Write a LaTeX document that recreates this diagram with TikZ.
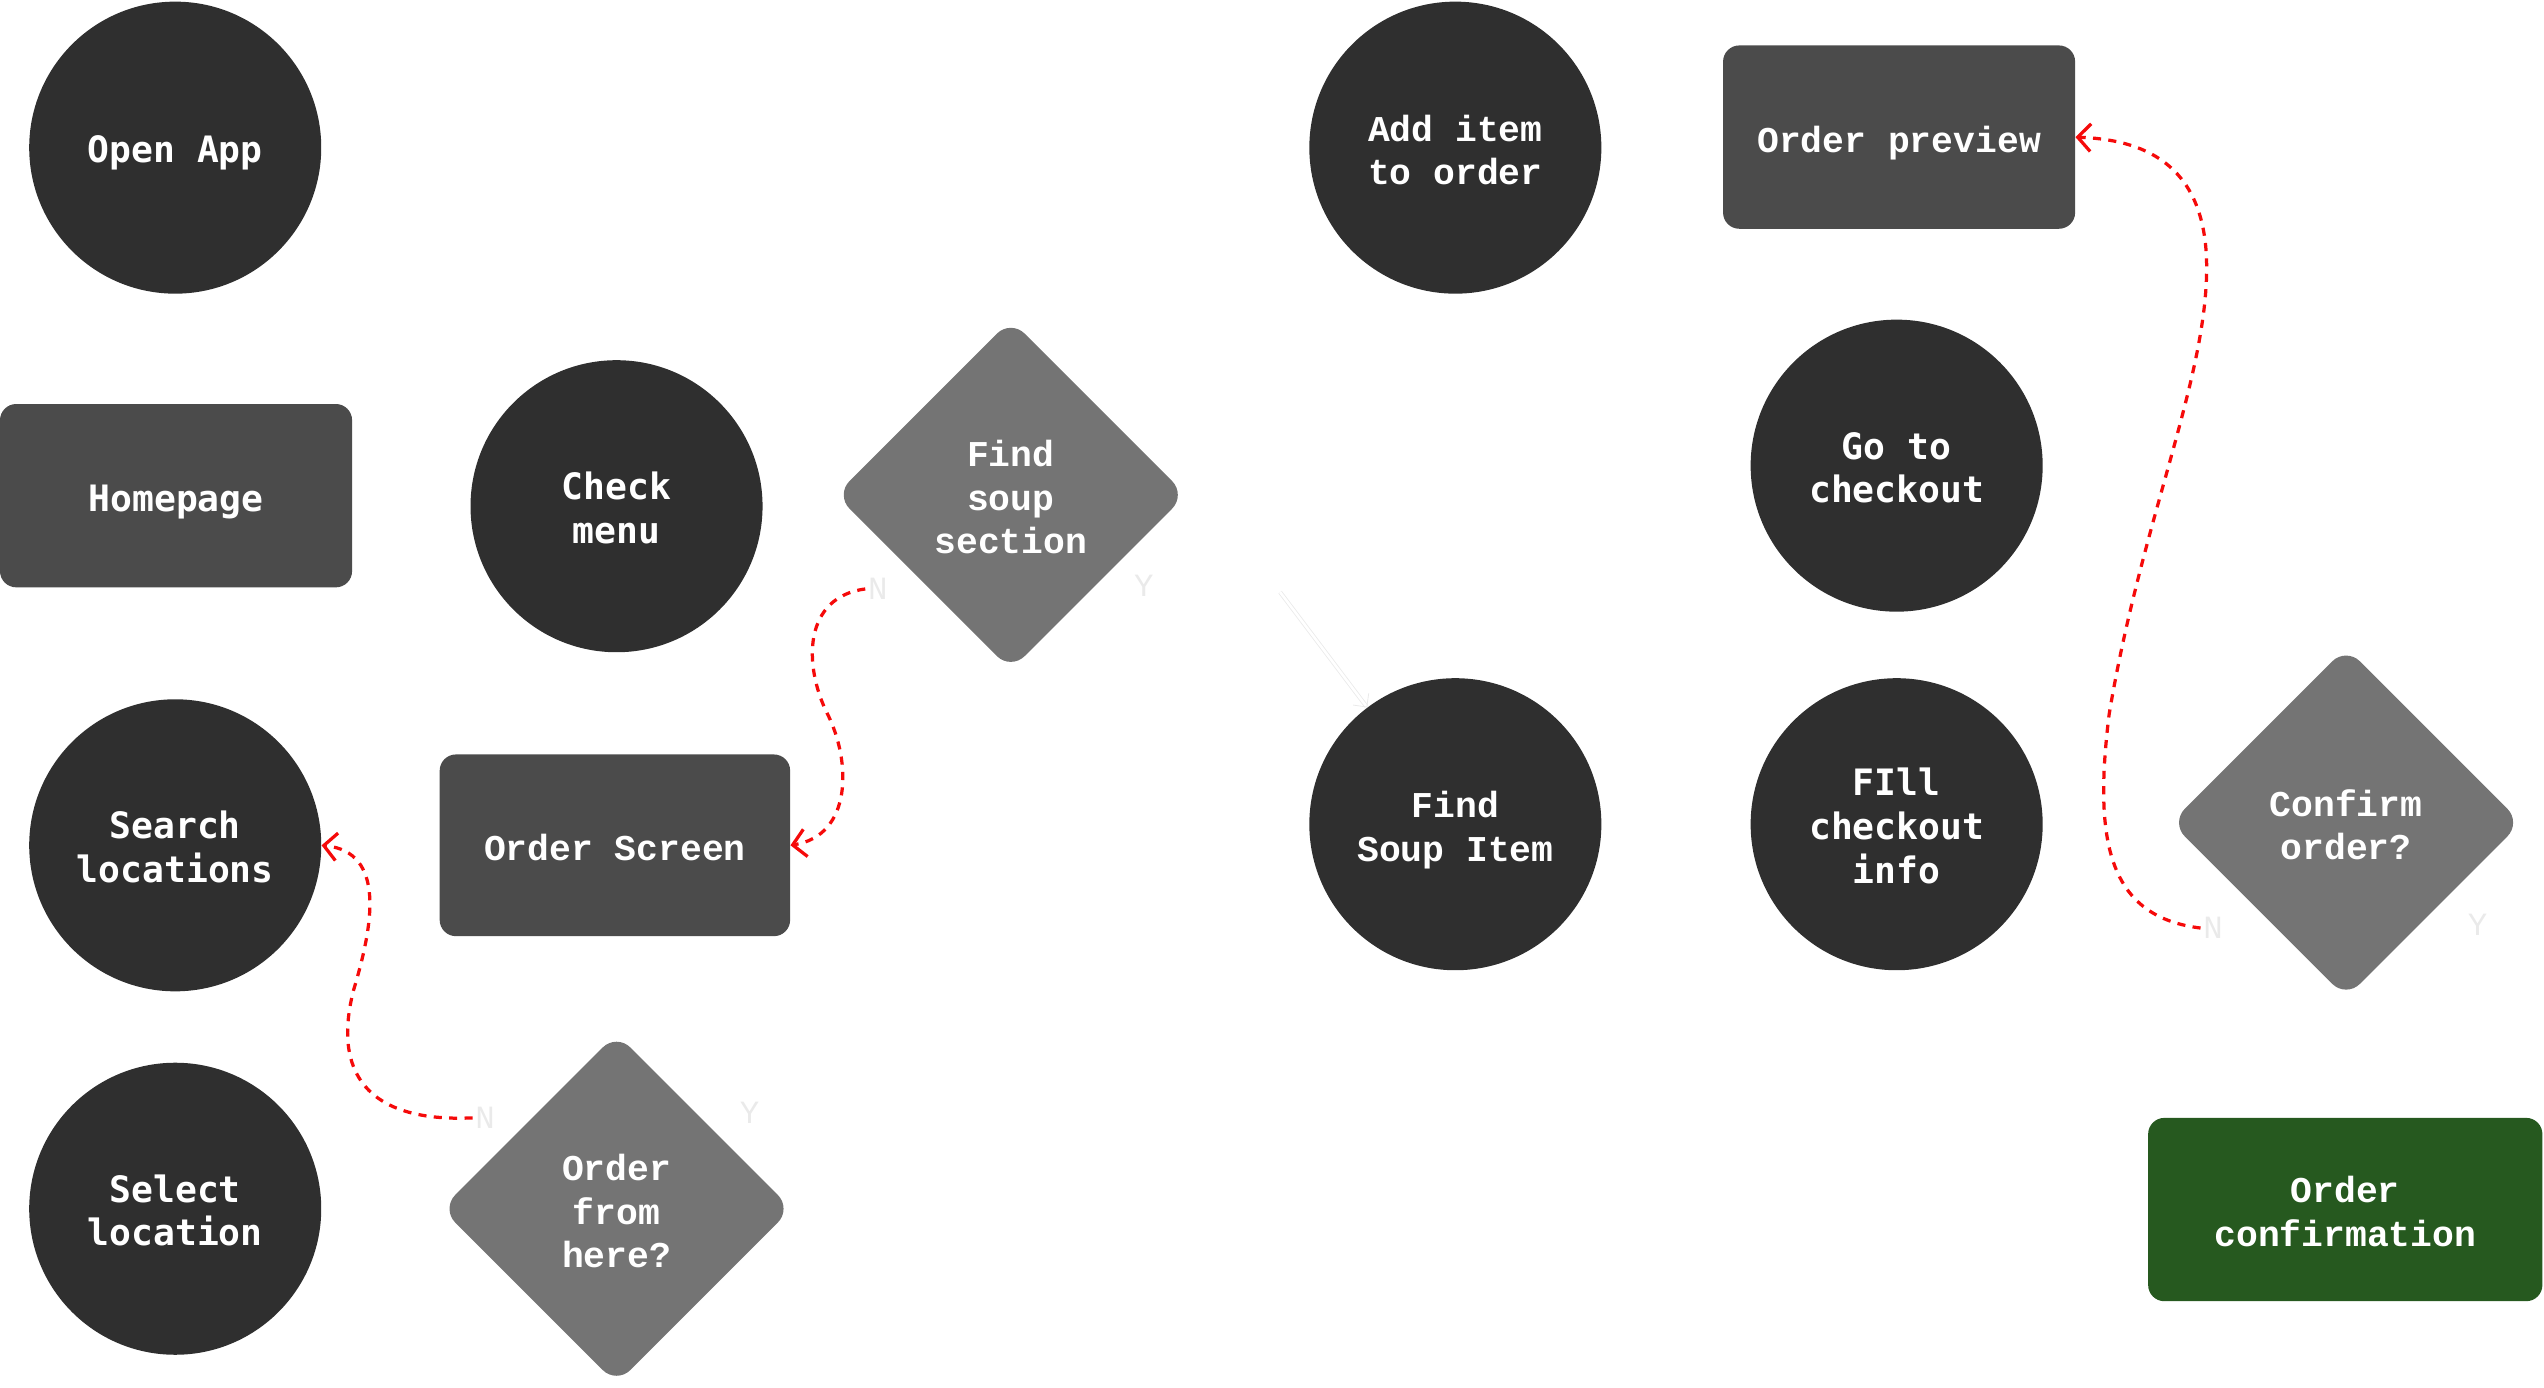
\documentclass[tikz,border=0pt]{standalone}
\usepackage{fontspec}
\newfontfamily\fa{DejaVu Sans Mono}
\newfontfamily\fb{Liberation Mono}
\usetikzlibrary{shapes.geometric,arrows.meta}
\definecolor{cdark}{HTML}{2F2F2F}
\definecolor{cmid}{HTML}{4B4B4B}
\definecolor{clight}{HTML}{747474}
\definecolor{cgreen}{HTML}{26591F}
\definecolor{cred}{HTML}{F50A0A}
\definecolor{cghost}{HTML}{EAEAEA}
\newcommand\ml[1]{\begin{tabular}{@{}c@{}}\rule{0pt}{27pt}#1\end{tabular}}
\begin{document}
\begin{tikzpicture}[x=1pt,y=-1pt,
  fonta/.style={font=\fa\bfseries\fontsize{22.4}{27}\selectfont},
  fontb/.style={font=\fb\bfseries\fontsize{22.4}{27}\selectfont},
  circ/.style={circle, fill=cdark, minimum size=180pt, inner sep=0pt, text=white},
  rbox/.style={rectangle, rounded corners=10pt, fill=cmid, minimum width=217pt, minimum height=113pt, inner sep=0pt, text=white},
  dia/.style={diamond, aspect=1, fill=clight, minimum width=216pt, minimum height=216pt, inner sep=0pt, rounded corners=12pt, text=white},
  lbl/.style={text=cghost, inner sep=1.5pt, font=\fb\fontsize{20}{24}\selectfont},
  redarrow/.style={draw=cred, line width=2pt, dash pattern=on 5pt off 4.5pt, -{Straight Barb[length=8pt,width=17pt,line width=2pt]}},
  ghost/.style={draw=cghost, line width=0.5pt, double=white, double distance=1.6pt, -{Straight Barb[length=6pt,width=12pt]}}
]
\useasboundingbox (0,0) rectangle (1568,855);

% left column
\node[circ, fonta] (oa) at (108,91) {\ml{Open App}};
\node[rbox, fonta] (hp) at (108.5,305.5) {\ml{Homepage}};
\node[circ, fonta] (sl) at (108,521) {\ml{Search\\locations}};
\node[circ, fonta] (sel) at (108,745) {\ml{Select\\location}};

% second column
\node[circ, fonta] (cm) at (380,312) {\ml{Check\\menu}};
\node[rbox, fontb, minimum width=216pt, minimum height=112pt] (os) at (379,521) {\ml{Order Screen}};
\node[dia, fontb] (ofh) at (380,745) {\ml{Order\\from\\here?}};

% third column
\node[dia, fontb] (fss) at (623,305) {\ml{Find\\soup\\section}};

% fourth column
\node[circ, fontb] (ai) at (897,91) {\ml{Add item\\to order}};
\node[circ, fontb] (fsi) at (897,508) {\ml{Find\\Soup Item}};

% fifth column
\node[rbox, fontb] (op) at (1170.5,84.5) {\ml{Order preview}};
\node[circ, fonta] (gc) at (1169,287) {\ml{Go to\\checkout}};
\node[circ, fonta] (fci) at (1169,508) {\ml{FIll\\checkout\\info}};

% sixth column
\node[dia, fontb] (co) at (1446,507) {\ml{Confirm\\order?}};
\node[rbox, fontb, fill=cgreen, minimum width=243pt] (oc) at (1445.5,745.5) {\ml{Order\\confirmation}};

% faint decision labels
\node[lbl] (n1) at (541,363) {N};
\node[lbl] (y1) at (705,361) {Y};
\node[lbl] (n2) at (299,689) {N};
\node[lbl] (y2) at (462,686) {Y};
\node[lbl] (n3) at (1364,572) {N};
\node[lbl] (y3) at (1527,570) {Y};

% faint connector
\coordinate (g1) at (789,365);
\draw[ghost] (g1) -- (fsi);

% red dashed connectors
\draw[redarrow] (n1.west) .. controls (495,368) and (495,410) .. (510,440)
  .. controls (525,470) and (525,515) .. (os.east);
\draw[redarrow] (n2.west) .. controls (225,692) and (205,660) .. (218,610)
  .. controls (230,570) and (238,525) .. (sl.east);
\draw[redarrow] (n3.west) .. controls (1300,565) and (1290,520) .. (1300,440)
  .. controls (1320,320) and (1362,230) .. (1360,160)
  .. controls (1358,100) and (1320,86) .. (op.east);
\end{tikzpicture}
\end{document}
